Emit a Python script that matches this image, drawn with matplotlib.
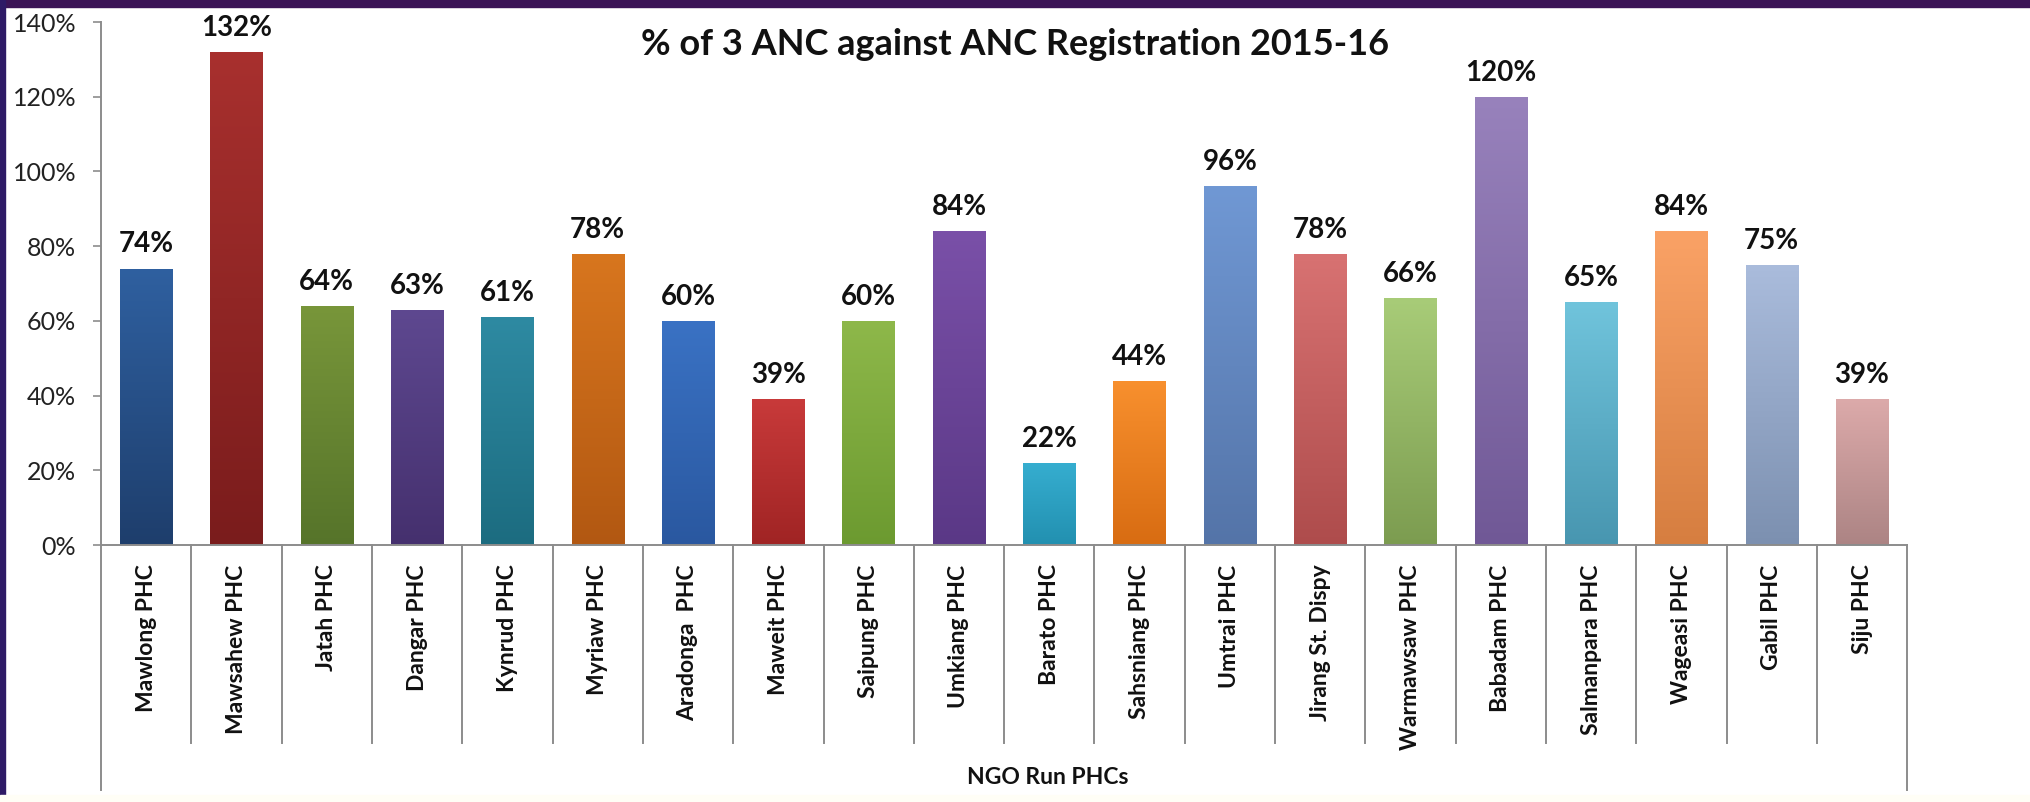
import numpy as np
import matplotlib
matplotlib.use("Agg")
import matplotlib.pyplot as plt
from matplotlib.colors import LinearSegmentedColormap
import matplotlib.ticker as ticker
from matplotlib.patches import Rectangle

plt.rcParams['font.family'] = ['Lato', 'DejaVu Sans']

# data
phcs = ["Mawlong PHC", "Mawsahew PHC", "Jatah PHC", "Dangar PHC", "Kynrud PHC",
        "Myriaw PHC", "Aradonga  PHC", "Maweit PHC", "Saipung PHC", "Umkiang PHC",
        "Barato PHC", "Sahsniang PHC", "Umtrai PHC", "Jirang St. Dispy", "Warmawsaw PHC",
        "Babadam PHC", "Salmanpara PHC", "Wageasi PHC", "Gabil PHC", "Siju PHC"]
pct = [0.74, 1.32, 0.64, 0.63, 0.61, 0.78, 0.60, 0.39, 0.60, 0.84,
       0.22, 0.44, 0.96, 0.78, 0.66, 1.20, 0.65, 0.84, 0.75, 0.39]
group_label = "NGO Run PHCs"
title = "% of 3 ANC against ANC Registration 2015-16"

# colours (top of bar, bottom of bar)
top_cols = ["#2F60A0", "#A8302E", "#78963A", "#5E4890", "#2E8AA2",
            "#D8761E", "#3A72C4", "#C83A3A", "#8EB84A", "#7A50A8",
            "#36AED0", "#F8902E", "#7098D4", "#D87272", "#A8CC78",
            "#9882BC", "#70C4DC", "#FAA266", "#AABCDC", "#DCAAAA"]
bot_cols = ["#1E3E6C", "#7A1C1C", "#56742A", "#45306E", "#1C6C80",
            "#B25812", "#2A58A0", "#A02424", "#6C9A30", "#5A3886",
            "#2290B0", "#D86C12", "#5474A8", "#AE4C4C", "#7C9C50",
            "#705896", "#4896B0", "#D67E40", "#7C90B0", "#AC8484"]

fig = plt.figure(figsize=(20.3, 8.02), dpi=100)
fig.patch.set_facecolor("white")

# slide frame (purple band at top and left)
fig.patches.append(Rectangle((0, 1 - 7 / 802), 1, 7 / 802, transform=fig.transFigure,
                             color="#3B1456", zorder=0))
fig.patches.append(Rectangle((0, 0), 5 / 2030, 1, transform=fig.transFigure,
                             color="#2E1A66", zorder=0))
fig.patches.append(Rectangle((0, 0), 1, 7 / 802, transform=fig.transFigure,
                             color="#FFFEF6", zorder=0))

ax = fig.add_axes([0.0498, 0.3204, 0.8897, 0.6521])
x = np.arange(len(phcs))
bars = ax.bar(x, pct, width=0.58, color="none", edgecolor="none", zorder=2)

# gradient fill, clipped to each bar
for b, c1, c2 in zip(bars, top_cols, bot_cols):
    cmap = LinearSegmentedColormap.from_list("g", [c2, c1])
    grad = np.linspace(0, 1, 256).reshape(-1, 1)
    im = ax.imshow(grad, cmap=cmap, aspect="auto", origin="lower",
                   extent=(b.get_x(), b.get_x() + b.get_width(), 0, b.get_height()),
                   zorder=2)
    im.set_clip_path(b)

for xi, v in zip(x, pct):
    ax.annotate(f"{v * 100:.0f}%", (xi, v), xytext=(0, 8), textcoords="offset points",
                ha="center", va="bottom", fontsize=20, fontweight="bold", color="#111111")

ax.set_xlim(-0.5, len(phcs) - 0.5)
ax.set_ylim(0, 1.4)
ax.yaxis.set_major_locator(ticker.MultipleLocator(0.2))
ax.yaxis.set_major_formatter(ticker.FuncFormatter(lambda v, p: f"{v * 100:.0f}%"))
ax.tick_params(axis="y", direction="out", length=6, width=1.2, color="#8C8C8C",
               labelsize=18, pad=12, labelcolor="#222222")
ax.set_xticks(x)
ax.set_xticklabels(phcs, rotation=90, fontsize=16.5, fontweight="bold", va="top")
ax.tick_params(axis="x", length=0, pad=14, labelcolor="#111111")

for s in ["top", "right"]:
    ax.spines[s].set_visible(False)
ax.spines["left"].set_color("#8C8C8C")
ax.spines["bottom"].set_color("#8C8C8C")
ax.spines["left"].set_linewidth(1.4)
ax.spines["bottom"].set_linewidth(1.4)

# category dividers below the axis
trans = ax.get_xaxis_transform()
for xi in x[:-1] + 0.5:
    ax.plot([xi, xi], [0, -0.379], transform=trans, color="#8C8C8C", lw=1.4, clip_on=False)
for xi in [-0.5, len(phcs) - 0.5]:
    ax.plot([xi, xi], [0, -0.468], transform=trans, color="#8C8C8C", lw=1.4, clip_on=False)

ax.text(0.524, -0.445, group_label, transform=ax.transAxes, ha="center", va="center",
        fontsize=16.5, fontweight="bold", color="#111111")
ax.text(0.506, 0.958, title, transform=ax.transAxes, ha="center", va="center",
        fontsize=26, fontweight="bold", color="#111111")

fig.savefig("out.png", dpi=100)
